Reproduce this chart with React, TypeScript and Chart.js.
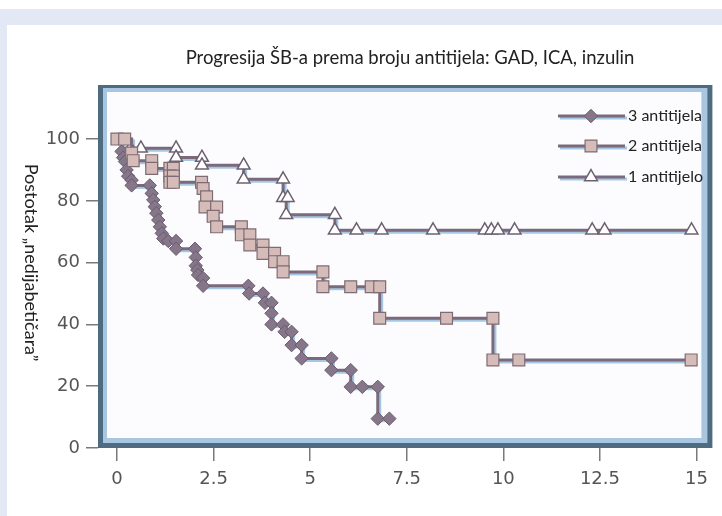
import React, { useEffect, useRef } from 'react';
import { Chart, registerables } from 'chart.js';

Chart.register(...registerables);

const titleText = 'Progresija ŠB-a prema broju antitijela: GAD, ICA, inzulin';
const yAxisTitle = 'Postotak \u201Enedijabeti\u010Dara\u201D';
const seriesNames = ['3 antitijela', '2 antitijela', '1 antitijelo'];

const xTicks = [0, 2.5, 5, 7.5, 10, 12.5, 15];
const yTicks = [0, 20, 40, 60, 80, 100];

// 3 antitijela (diamonds)
const s3X = [0, 0.12, 0.16, 0.21, 0.25, 0.29, 0.38, 0.38, 0.85, 0.9, 0.94, 0.98, 1.02, 1.07, 1.11, 1.16, 1.2, 1.33, 1.53, 1.53, 2.02, 2.04, 2.04, 2.08, 2.1, 2.23, 2.23, 3.4, 3.42, 3.78, 3.83, 4.0, 4.0, 4.0, 4.3, 4.34, 4.52, 4.52, 4.78, 4.78, 5.55, 5.55, 6.05, 6.05, 6.35, 6.75, 6.75, 7.05];
const s3Y = [100, 96, 94, 92.7, 90, 88, 86.7, 85, 85, 82.4, 80.3, 78.1, 76, 73.8, 71.6, 69.5, 67.8, 67, 67, 64.5, 64.5, 61.7, 59, 57.6, 56, 55, 52.5, 52.5, 50, 50, 47, 47, 43.6, 40, 40, 37.6, 37.6, 33.3, 33.3, 29, 29, 25.2, 25.2, 19.8, 19.8, 19.8, 9.5, 9.5];

// 2 antitijela (squares)
const s2X = [0, 0.2, 0.38, 0.42, 0.9, 0.9, 1.37, 1.46, 1.37, 1.46, 1.37, 1.46, 2.19, 2.23, 2.32, 2.28, 2.58, 2.49, 2.58, 3.22, 3.22, 3.44, 3.44, 3.78, 3.78, 4.08, 4.08, 4.3, 4.3, 5.33, 5.33, 6.05, 6.58, 6.8, 6.8, 8.53, 9.73, 9.73, 10.4, 14.86];
const s2Y = [100, 100, 95.5, 93, 93, 90.5, 90.5, 90.5, 88, 88, 86, 86, 86, 84, 81.3, 78, 78, 75, 71.6, 71.6, 69, 69, 65.7, 65.7, 63, 63, 60.3, 60.3, 57, 57, 52.2, 52.2, 52.2, 52.2, 42, 42, 42, 28.5, 28.5, 28.5];

// 1 antitijelo (triangles)
const s1X = [0, 0.35, 0.62, 1.53, 1.53, 2.2, 2.2, 3.28, 3.28, 4.3, 4.3, 4.42, 4.38, 5.64, 5.64, 6.2, 6.85, 8.18, 9.52, 9.69, 9.86, 10.29, 12.3, 12.62, 14.87];
const s1Y = [100, 97, 97, 97, 94, 94, 91.5, 91.5, 87, 87, 81, 81, 75.5, 75.5, 70.5, 70.5, 70.5, 70.5, 70.5, 70.5, 70.5, 70.5, 70.5, 70.5, 70.5];

const LINE = '#7b6a7b';
const SHADOW = '#a6c7e4';

const toPts = (xs: number[], ys: number[]) => xs.map((x, i) => ({ x, y: ys[i] }));

const styles = [
  { pointStyle: 'rectRot', radius: 6.7, bg: '#85768a', border: '#6a5b6e', bw: 1 },
  { pointStyle: 'rect', radius: 8.4, bg: '#d5bcb8', border: '#7e6b73', bw: 1.2 },
  { pointStyle: 'triangle', radius: 7.4, bg: '#ffffff', border: '#6c6170', bw: 1.5 },
];

function drawMarker(ctx: CanvasRenderingContext2D, kind: string, x: number, y: number, r: number) {
  ctx.beginPath();
  if (kind === 'rectRot') {
    ctx.moveTo(x, y - r);
    ctx.lineTo(x + r, y);
    ctx.lineTo(x, y + r);
    ctx.lineTo(x - r, y);
    ctx.closePath();
  } else if (kind === 'rect') {
    const s = r * Math.SQRT1_2;
    ctx.rect(x - s, y - s, 2 * s, 2 * s);
  } else {
    ctx.moveTo(x, y - r);
    ctx.lineTo(x + r * 0.866, y + r / 2);
    ctx.lineTo(x - r * 0.866, y + r / 2);
    ctx.closePath();
  }
  ctx.fill();
  ctx.stroke();
}

const shadowPlugin = {
  id: 'shadowOffset',
  beforeDatasetDraw(chart: any, args: any) {
    const ds = chart.data.datasets[args.index];
    if (ds.isShadow) {
      chart.ctx.save();
      chart.ctx.translate(2, 2);
    }
  },
  afterDatasetDraw(chart: any, args: any) {
    const ds = chart.data.datasets[args.index];
    if (ds.isShadow) chart.ctx.restore();
  },
};

const framePlugin = {
  id: 'frame',
  beforeDatasetsDraw(chart: any) {
    const { ctx, chartArea: a } = chart;
    ctx.save();
    ctx.fillStyle = '#4e6b81';
    ctx.fillRect(a.left, a.top, a.right - a.left, a.bottom - a.top);
    ctx.fillStyle = '#a8c6df';
    ctx.fillRect(a.left + 5, a.top + 3, a.right - a.left - 10, a.bottom - a.top - 8);
    ctx.fillStyle = '#fcfcfe';
    ctx.fillRect(a.left + 9, a.top + 7, a.right - a.left - 20, a.bottom - a.top - 17);
    ctx.restore();
  },
};

const textPlugin = {
  id: 'texts',
  afterDraw(chart: any) {
    const ctx = chart.ctx;
    const a = chart.chartArea;
    ctx.save();
    ctx.fillStyle = '#222';
    ctx.font = '18.5px Lato';
    ctx.textAlign = 'center';
    ctx.textBaseline = 'middle';
    ctx.fillText(titleText, 410, 58);
    ctx.save();
    ctx.translate(31, (a.top + a.bottom) / 2 - 4);
    ctx.rotate(Math.PI / 2);
    ctx.font = '18px Lato';
    ctx.fillText(yAxisTitle, 0, 0);
    ctx.restore();
    // legend
    const rows = [116, 146, 177];
    seriesNames.forEach((name, i) => {
      const y = rows[i];
      ctx.strokeStyle = SHADOW;
      ctx.lineWidth = 3;
      ctx.beginPath();
      ctx.moveTo(560, y + 2);
      ctx.lineTo(627, y + 2);
      ctx.stroke();
      ctx.strokeStyle = LINE;
      ctx.beginPath();
      ctx.moveTo(558, y);
      ctx.lineTo(625, y);
      ctx.stroke();
      const st = styles[i];
      ctx.fillStyle = st.bg;
      ctx.strokeStyle = st.border;
      ctx.lineWidth = st.bw;
      drawMarker(ctx, st.pointStyle, 591, y, st.radius);
      ctx.fillStyle = '#222';
      ctx.font = '16px Lato';
      ctx.textAlign = 'left';
      ctx.textBaseline = 'middle';
      ctx.fillText(name, 628, y);
    });
    ctx.restore();
  },
};

export default function App() {
  const ref = useRef<HTMLCanvasElement>(null);
  useEffect(() => {
    if (!ref.current) return;
    const series = [toPts(s3X, s3Y), toPts(s2X, s2Y), toPts(s1X, s1Y)];
    const orders = [2, 1, 3];
    const datasets: any[] = [];
    series.forEach((pts) => {
      datasets.push({
        data: pts,
        isShadow: true,
        borderColor: SHADOW,
        borderWidth: 3,
        pointRadius: 0,
        stepped: 'before',
        fill: false,
        order: 10,
      });
    });
    series.forEach((pts, i) => {
      const st = styles[i];
      datasets.push({
        label: seriesNames[i],
        data: pts,
        borderColor: LINE,
        borderWidth: 3,
        stepped: 'before',
        fill: false,
        pointStyle: st.pointStyle,
        pointRadius: (c: any) => (c.dataIndex === 0 && i !== 1 ? 0 : st.radius),
        pointBackgroundColor: st.bg,
        pointBorderColor: st.border,
        pointBorderWidth: st.bw,
        order: orders[i],
      });
    });
    const tickFont = { family: 'DejaVu Sans', size: 18 };
    const chart = new Chart(ref.current, {
      type: 'line',
      data: { datasets },
      options: {
        animation: false,
        responsive: false,
        events: [],
        layout: { padding: { top: 85, right: 9, bottom: 28, left: 0 } },
        plugins: { legend: { display: false }, tooltip: { enabled: false }, title: { display: false } },
        scales: {
          x: {
            type: 'linear',
            min: -0.49,
            max: 15.41,
            afterBuildTicks: (s: any) => {
              s.ticks = xTicks.map((v) => ({ value: v }));
            },
            afterFit: (s: any) => {
              s.height = 40;
            },
            ticks: { font: tickFont, color: '#555', padding: 8, maxRotation: 0, autoSkip: false, callback: (v: any) => String(v) },
            grid: { drawOnChartArea: false, drawTicks: true, tickLength: 13, color: '#7a7a7a', lineWidth: 1.5 },
            border: { display: false },
          },
          y: {
            type: 'linear',
            min: 0,
            max: 117.5,
            afterBuildTicks: (s: any) => {
              s.ticks = yTicks.map((v) => ({ value: v }));
            },
            afterFit: (s: any) => {
              s.width = 98;
            },
            ticks: { font: tickFont, color: '#555', padding: 6, autoSkip: false, callback: (v: any) => String(v) },
            grid: { drawOnChartArea: false, drawTicks: true, tickLength: 12, color: '#7a7a7a', lineWidth: 1.5 },
            border: { display: false },
          },
        },
      },
      plugins: [shadowPlugin, framePlugin, textPlugin],
    } as any);
    return () => chart.destroy();
  }, []);
  return (
    <div style={{ position: 'fixed', left: 0, top: 0, width: 722, height: 516, background: '#ffffff', overflow: 'hidden' }}>
      <div style={{ position: 'absolute', left: 0, top: 9, right: 0, bottom: 0, background: '#e3e9f4' }} />
      <div style={{ position: 'absolute', left: 7, top: 25, right: 0, bottom: 0, background: '#ffffff' }} />
      <canvas ref={ref} width={722} height={516} style={{ position: 'absolute', left: 0, top: 0, width: 722, height: 516 }} />
    </div>
  );
}
